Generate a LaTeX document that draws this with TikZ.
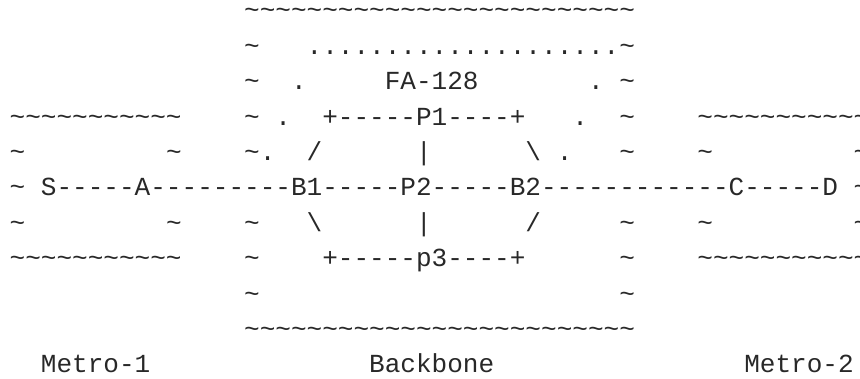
\documentclass[tikz,border=0pt]{standalone}
\usepackage{fontspec}
\setmonofont{Liberation Mono}
\definecolor{ink}{RGB}{40,40,40}
\newcommand\tildes[1]{\foreach \i in {1,...,#1}{\textasciitilde}}
\newcommand\tld{\textasciitilde}
\newcommand\bsl{\textbackslash}
\newcommand\seg[3]{\node[asciitxt] (s#2-#1) at ({9.7pt+#1*15.63pt},{379pt-19pt-(#2-1)*35.4pt}) {#3};}
\tikzset{asciitxt/.style={anchor=base west, inner sep=0pt, outer sep=0pt, text=ink,
  font=\ttfamily\fontsize{26.05pt}{30pt}\selectfont}}
\begin{document}
\begin{tikzpicture}
\useasboundingbox (0,0) rectangle (860pt,379pt);
% line 1
\seg{15}{1}{\tildes{25}}
% line 2
\seg{15}{2}{\tld}
\seg{19}{2}{....................\tld}
% line 3
\seg{15}{3}{\tld}
\seg{18}{3}{.}
\seg{24}{3}{FA-128}
\seg{37}{3}{.}
\seg{39}{3}{\tld}
% line 4
\seg{0}{4}{\tildes{11}}
\seg{15}{4}{\tld}
\seg{17}{4}{.}
\seg{20}{4}{+-----P1----+}
\seg{36}{4}{.}
\seg{39}{4}{\tld}
\seg{44}{4}{\tildes{11}}
% line 5
\seg{0}{5}{\tld}
\seg{10}{5}{\tld}
\seg{15}{5}{\tld.}
\seg{19}{5}{/}
\seg{26}{5}{|}
\seg{33}{5}{\bsl}
\seg{35}{5}{.}
\seg{39}{5}{\tld}
\seg{44}{5}{\tld}
\seg{54}{5}{\tld}
% line 6
\seg{0}{6}{\tld}
\seg{2}{6}{S-----A---------B1-----P2-----B2------------C-----D}
\seg{54}{6}{\tld}
% line 7
\seg{0}{7}{\tld}
\seg{10}{7}{\tld}
\seg{15}{7}{\tld}
\seg{19}{7}{\bsl}
\seg{26}{7}{|}
\seg{33}{7}{/}
\seg{39}{7}{\tld}
\seg{44}{7}{\tld}
\seg{54}{7}{\tld}
% line 8
\seg{0}{8}{\tildes{11}}
\seg{15}{8}{\tld}
\seg{20}{8}{+-----p3----+}
\seg{39}{8}{\tld}
\seg{44}{8}{\tildes{11}}
% line 9
\seg{15}{9}{\tld}
\seg{39}{9}{\tld}
% line 10
\seg{15}{10}{\tildes{25}}
% line 11
\seg{2}{11}{Metro-1}
\seg{23}{11}{Backbone}
\seg{47}{11}{Metro-2}
\end{tikzpicture}
\end{document}
